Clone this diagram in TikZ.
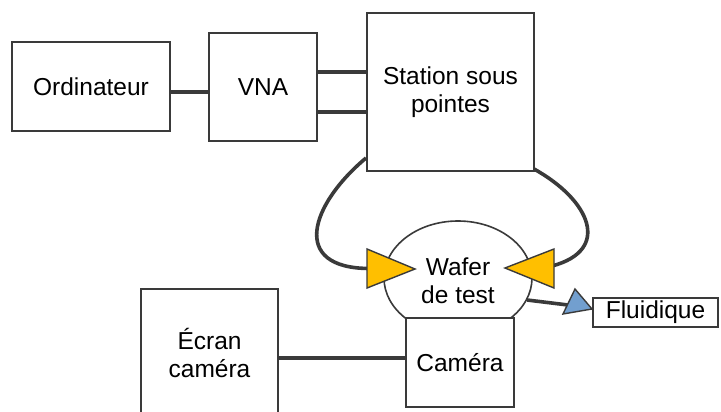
\documentclass[tikz,border=0pt]{standalone}
\usepackage{fontspec}
\usetikzlibrary{shapes.geometric}
\setmainfont{Liberation Sans}
\definecolor{edge}{HTML}{3A3A3A}
\definecolor{tipyellow}{HTML}{FFBF00}
\definecolor{tipblue}{HTML}{729FCF}
\begin{document}
\begin{tikzpicture}[x=1pt,y=-1pt,
  box/.style={draw=edge,line width=1.6pt,fill=white,rectangle,outer sep=0pt,inner sep=0pt,align=center,
    font=\fontsize{24.5}{28}\selectfont},
  conn/.style={draw=edge,line width=3.6pt},
  tipshape/.style={draw=edge,line width=1.4pt,line join=miter}]
\path[use as bounding box,clip] (0,0) rectangle (721,412);
\fill[white] (0,0) rectangle (721,412);
% wafer
\node[box,ellipse,minimum width=148pt,minimum height=114pt] (waf) at (458,278) {};
\node[font=\fontsize{24.5}{28}\selectfont,align=center] (waftxt) at (458,281) {Wafer\\de test};
% boxes
\node[box,minimum width=158pt,minimum height=89pt] (ord) at (91,86.5) {Ordinateur};
\node[box,minimum width=108pt,minimum height=108pt] (vna) at (263,87) {VNA};
\node[box,minimum width=167pt,minimum height=158pt] (st) at (450.5,92) {Station sous\\pointes};
\node[box,minimum width=137pt,minimum height=128pt] (ecr) at (209.5,353) {Écran\\caméra};
\node[box,minimum width=108pt,minimum height=89pt] (cam) at (460,362.5) {Caméra};
\node[box,minimum width=125pt,minimum height=29pt] (flu) at (655.5,312.5) {Fluidique};
% straight connectors
\draw[conn] (ord.east|-0,92) -- (vna.west|-0,92);
\draw[conn] (vna.east|-0,72) -- (st.west|-0,72);
\draw[conn] (vna.east|-0,112) -- (st.west|-0,112);
\draw[conn] (ecr.east|-0,358) -- (cam.west|-0,358);
% probe curves
\coordinate (lstart) at (366,158);
\coordinate (lbase) at (369,268.5);
\coordinate (rstart) at (534,169);
\coordinate (rbase) at (552,266);
\draw[conn] (lstart) .. controls (310,205) and (290,268) .. (lbase);
\draw[conn] (rstart) .. controls (590,200) and (612,250) .. (rbase);
\filldraw[tipshape,fill=tipyellow] (367,249) -- (367,288) -- (415,269) -- cycle;
\filldraw[tipshape,fill=tipyellow] (554,249) -- (554,288) -- (505,268) -- cycle;
% fluidic link
\coordinate (fstart) at (527,300);
\coordinate (fend) at (568,305);
\draw[conn] (fstart) -- (fend);
\filldraw[tipshape,fill=tipblue] (563,314) -- (575,289) -- (592,309) -- cycle;
\end{tikzpicture}
\end{document}
